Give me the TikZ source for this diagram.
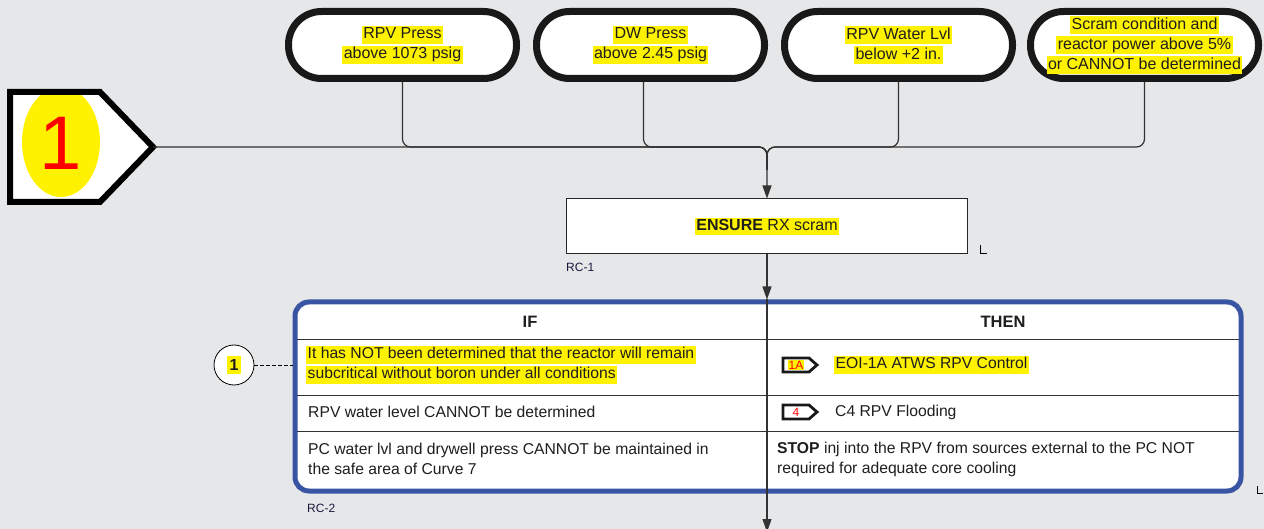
\documentclass[tikz,border=0pt]{standalone}
\usepackage{fontspec}
\setmainfont{Liberation Sans}
\usepackage{xcolor}
\usetikzlibrary{arrows.meta,positioning,calc}
\definecolor{bgpanel}{HTML}{E6E7E9}
\definecolor{tblframe}{HTML}{3A54A4}
\definecolor{flowline}{HTML}{333333}
\definecolor{textdark}{HTML}{1E1E1E}
\setlength{\fboxsep}{1.5pt}
\newcommand{\hl}[1]{\colorbox{yellow}{\rule[-3.5pt]{0pt}{13pt}#1}}
% small go-to tag: name, left x, y, label, fill
\newcommand{\gotag}[5]{%
  \draw[tagsig] (#2,#3-7) -- (#2+26,#3-7) -- (#2+34,#3) -- (#2+26,#3+7) -- (#2,#3+7) -- cycle;
  \node[taglbl, fill=#5] (#1) at (#2+13,#3) {#4};}
\tikzset{
  cond/.style={draw=black!90, fill=white, line width=7, rounded corners=33,
    minimum width=228, minimum height=67, align=center, text=textdark,
    font=\fontsize{16}{20}\selectfont},
  actbox/.style={draw=black!85, fill=white, line width=1, minimum width=401,
    minimum height=55, text=textdark, font=\fontsize{16}{20}\selectfont},
  tblbox/.style={draw=tblframe, fill=white, line width=5, rounded corners=14,
    minimum width=946, minimum height=189},
  hdr/.style={text=textdark, font=\bfseries\fontsize{16.5}{18}\selectfont},
  cell/.style={anchor=west, align=left, inner sep=1, text=textdark,
    font=\fontsize{15.7}{20}\selectfont},
  steplbl/.style={anchor=west, inner sep=1, text=textdark!85!blue,
    font=\fontsize{12}{14}\selectfont},
  flow/.style={draw=flowline, line width=1.2},
  arr/.style={-{Triangle[length=13pt,width=9pt]}},
  rowline/.style={draw=flowline, line width=1},
  tagsig/.style={draw=black!90, fill=white, line width=2.8, line join=miter},
  taglbl/.style={inner sep=0.5, text=red, font=\fontsize{12}{12}\selectfont},
  circ/.style={circle, draw=black, fill=white, line width=0.8, minimum size=40,
    inner sep=0, text=textdark, font=\fontsize{16}{18}\selectfont}
}
\begin{document}
\begin{tikzpicture}[x=1pt, y=-1pt]
\useasboundingbox (0,0) rectangle (1264,529);
\fill[bgpanel] (0,0) rectangle (1264,529);

% entry condition 1
\begin{scope}
\clip (10,92) -- (100,92) -- (153,147) -- (100,202) -- (10,202) -- cycle;
\fill[white] (0,85) rectangle (160,210);
\fill[yellow] (61,142) ellipse [x radius=39pt, y radius=55pt];
\end{scope}
\draw[line width=6] (10,92) -- (100,92) -- (153,147) -- (100,202) -- (10,202) -- cycle;
\node[text=red, font=\fontsize{76}{76}\selectfont] (entrynum) at (61,143) {1};
\coordinate (entry) at (153,147);

% entry conditions
\node[cond] (b1) at (402.5,45) {\hl{RPV Press}\\\hl{above 1073 psig}};
\node[cond, right=13pt of b1] (b2) {\hl{DW Press}\\\hl{above 2.45 psig}};
\node[cond, right=13pt of b2] (b3) {\hl{RPV Water Lvl}\\\hl{below +2 in.}};
\node[cond, right=11pt of b3] (b4) {\hl{Scram condition and}\\\hl{reactor power above 5\%}\\\hl{or CANNOT be determined}};

% RC-1
\node[actbox] (ensure) at (767,226.5) {\hl{\textbf{ENSURE} RX scram}};
\node[steplbl] (rc1) at (565,267) {RC-1};
\draw[line width=0.7] (980,245) |- (987,253);

% merge into RC-1
\coordinate (jn) at (767,147);
\coordinate (jd) at (767,170);
\draw[flow, rounded corners=8] (b1.south) |- (jn) -- (jd);
\draw[flow, rounded corners=8] ([xshift=-7pt]b2.south) |- (jn) -- (jd);
\draw[flow, rounded corners=8] (b3.south) |- (jn) -- (jd);
\draw[flow, rounded corners=8] (b4.south) |- (jn) -- (jd);
\draw[flow, rounded corners=8, arr] (entry) -| (ensure.north);

% RC-2 table
\node[tblbox] (tbl) at (768,396.5) {};
\draw[rowline] (297,340) -- (1239,340);
\draw[rowline] (297,395) -- (1239,395);
\draw[rowline] (297,431) -- (1239,431);
\draw[flow, arr] (ensure.south) -- (ensure.south |- tbl.north);
\coordinate (out) at (767,532);
\draw[flow, arr] (ensure.south |- tbl.north) -- (out);

\node[hdr] (hif) at (530,322) {IF};
\node[hdr] (hthen) at (1003,322) {THEN};

\node[cell] (if1) at (305,365) {\hl{It has NOT been determined that the reactor will remain}\\\hl{subcritical without boron under all conditions}};
\node[cell] (if2) at (307,412) {RPV water level CANNOT be determined};
\node[cell] (if3) at (307,459) {PC water lvl and drywell press CANNOT be maintained in\\the safe area of Curve 7};

\gotag{t1}{783}{365}{1A}{yellow}
\node[cell] (then1) at (833,365) {\hl{EOI-1A ATWS RPV Control}};
\gotag{t2}{783}{412}{4}{white}
\node[cell] (then2) at (834,412) {C4 RPV Flooding};
\node[cell] (then3) at (776,459) {\textbf{STOP} inj into the RPV from sources external to the PC NOT\\required for adequate core cooling};

\node[circ] (c1) at (234,365) {{\fboxsep=3pt\colorbox{yellow}{\textbf{1}}}};
\draw[dash pattern=on 4pt off 2pt, line width=0.8] (c1.east) -- (c1.east -| tbl.west);

\node[steplbl] (rc2) at (306,508) {RC-2};
\draw[line width=0.7] (1257,486) |- (1263,493);
\end{tikzpicture}
\end{document}
